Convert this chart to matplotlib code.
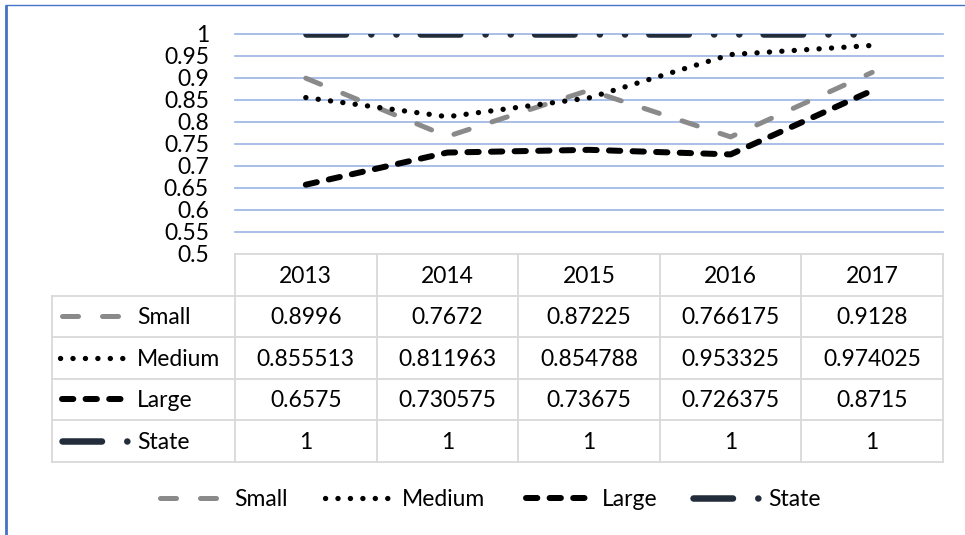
import matplotlib
matplotlib.use('Agg')
import matplotlib.pyplot as plt
from matplotlib.lines import Line2D
import numpy as np

# ---------------- data ----------------
years = ['2013', '2014', '2015', '2016', '2017']
series_names = ['Small', 'Medium', 'Large', 'State']
small = [0.8996, 0.7672, 0.87225, 0.766175, 0.9128]
medium = [0.855513, 0.811963, 0.854788, 0.953325, 0.974025]
large = [0.6575, 0.730575, 0.73675, 0.726375, 0.8715]
state = [1, 1, 1, 1, 1]
y_ticks = [0.5, 0.55, 0.6, 0.65, 0.7, 0.75, 0.8, 0.85, 0.9, 0.95, 1.0]
y_tick_labels = ['0.5', '0.55', '0.6', '0.65', '0.7', '0.75', '0.8', '0.85', '0.9', '0.95', '1']
series_values = [small, medium, large, state]

# ---------------- style ----------------
plt.rcParams['font.family'] = ['Lato', 'DejaVu Sans']
plt.rcParams['lines.scale_dashes'] = False
FS = 16.5
TXT = '#000000'
PX = 0.72  # points per pixel at dpi 100

styles = {
    'Small': dict(color='#8A8A8A', lw=5 * PX, ls=(0, (16 * PX, 24 * PX))),
    'Medium': dict(color='#000000', lw=5.3 * PX, ls=(0, (0.1, 12.3 * PX))),
    'Large': dict(color='#000000', lw=6 * PX, ls=(0, (11.3 * PX, 12.3 * PX))),
    'State': dict(color='#222C3A', lw=6.5 * PX,
                  ls=(0, (39.5 * PX, 25.25 * PX, 0.1, 25 * PX, 0.1, 24.25 * PX))),
}

W, H = 965, 535
fig = plt.figure(figsize=(W / 100, H / 100), dpi=100)

plot_l, plot_r, plot_t, plot_b = 235, 943, 34, 254

# overlay axes in pixel coordinates (table, legend, border)
ov = fig.add_axes([0, 0, 1, 1], zorder=0)
ov.set_xlim(0, W)
ov.set_ylim(H, 0)
ov.axis('off')

ax = fig.add_axes([plot_l / W, 1 - plot_b / H, (plot_r - plot_l) / W, (plot_b - plot_t) / H], zorder=1)
ax.patch.set_alpha(0)
ax.set_xlim(-0.5, len(years) - 0.5)
ax.set_ylim(0.5, 1.0)
for s in ax.spines.values():
    s.set_visible(False)
ax.set_xticks([])
ax.set_yticks(y_ticks)
ax.set_yticklabels(y_tick_labels, fontsize=FS, color=TXT)
ax.tick_params(axis='y', length=0, pad=26 * PX)

for yv in y_ticks[1:]:
    ax.axhline(yv, color='#9AB4E1', lw=1.2, zorder=0, clip_on=False)

xs = np.arange(len(years))
for name, vals in zip(series_names, series_values):
    st = styles[name]
    ax.plot(xs, vals, color=st['color'], lw=st['lw'], linestyle=st['ls'],
            dash_capstyle='round', solid_capstyle='round', dash_joinstyle='round', zorder=2)

# ---------------- data table ----------------
grid_c = '#D9D9D9'
grid_lw = 1.3
col_edges = np.linspace(plot_l, plot_r, len(years) + 1)
col_centers = (col_edges[:-1] + col_edges[1:]) / 2
row_edges = np.linspace(254, 461.5, len(series_names) + 2)
row_centers = (row_edges[:-1] + row_edges[1:]) / 2
tab_left = 52

ov.plot([plot_l, plot_r], [row_edges[0], row_edges[0]], color=grid_c, lw=grid_lw)
for yv in row_edges[1:]:
    ov.plot([tab_left, plot_r], [yv, yv], color=grid_c, lw=grid_lw)
ov.plot([tab_left, tab_left], [row_edges[1], row_edges[-1]], color=grid_c, lw=grid_lw)
for xv in col_edges:
    ov.plot([xv, xv], [row_edges[0], row_edges[-1]], color=grid_c, lw=grid_lw)

BASE = 8
for j, yr in enumerate(years):
    ov.text(col_centers[j], row_centers[0] + BASE, yr, ha='center', va='baseline', fontsize=FS, color=TXT)

key_spans = {'Small': (61.5, 121.5), 'Medium': (60, 123), 'Large': (62, 122), 'State': (62, 129)}
for r, (name, vals) in enumerate(zip(series_names, series_values)):
    yc = row_centers[r + 1]
    st = styles[name]
    x0, x1 = key_spans[name]
    ov.add_line(Line2D([x0, x1], [yc, yc], color=st['color'], lw=st['lw'], linestyle=st['ls'],
                       dash_capstyle='round', solid_capstyle='round'))
    ov.text(137, yc + BASE, name, ha='left', va='baseline', fontsize=FS, color=TXT)
    for j, v in enumerate(vals):
        ov.text(col_centers[j], yc + BASE, str(v), ha='center', va='baseline', fontsize=FS, color=TXT)

# ---------------- legend ----------------
leg_y = 498
leg_items = {'Small': (159.5, 219.5, 234), 'Medium': (325, 388, 402),
             'Large': (526, 585, 602), 'State': (693, 759, 768)}
for name in series_names:
    st = styles[name]
    x0, x1, tx = leg_items[name]
    ov.add_line(Line2D([x0, x1], [leg_y, leg_y], color=st['color'], lw=st['lw'], linestyle=st['ls'],
                       dash_capstyle='round', solid_capstyle='round'))
    ov.text(tx, leg_y + BASE, name, ha='left', va='baseline', fontsize=FS, color=TXT)

# ---------------- chart border ----------------
ov.plot([6, 6], [5, H], color='#4472C4', lw=2.0, solid_capstyle='butt')
ov.plot([5, W], [5, 5], color='#4472C4', lw=1.0, solid_capstyle='butt')

fig.savefig('out.png', dpi=100)
